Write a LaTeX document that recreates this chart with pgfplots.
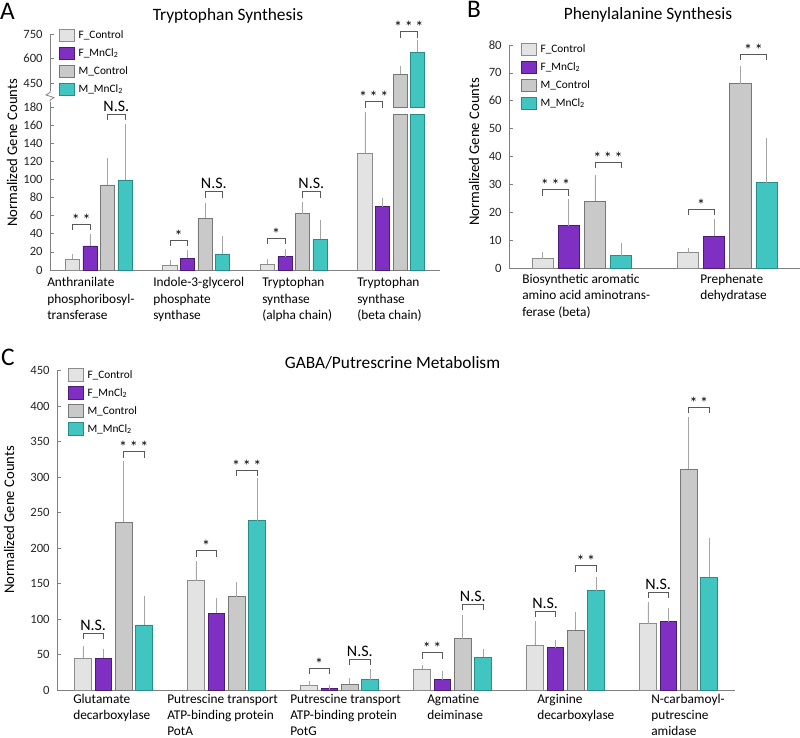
\documentclass[border=0pt]{standalone}
\usepackage{pgfplots}
\pgfplotsset{compat=1.18}
\usepackage{pgfplotstable}
\usepackage{fontspec}
\setmainfont{Carlito}

\definecolor{fcF}{HTML}{E3E3E3}\definecolor{fcD}{HTML}{8C8C8C}
\definecolor{fmF}{HTML}{7F30C2}\definecolor{fmD}{HTML}{4A1C75}
\definecolor{mcF}{HTML}{C9C9C9}\definecolor{mcD}{HTML}{777777}
\definecolor{mmF}{HTML}{40C5C0}\definecolor{mmD}{HTML}{2A8C88}
\definecolor{errc}{HTML}{A6A6A6}
\definecolor{axc}{HTML}{808080}

\pgfplotstableread{
x fc fce fm fme
0 11.8 2.9 26.5 10.3
1 5.5 2.5 12.9 6.2
2 6.3 3.6 14.7 5.5
3 128.9 43.0 69.9 7.1
}\tabAF
\pgfplotstableread{
x mc mce mm mme
0 93.9 27.6 99.4 59.6
1 57.0 14.0 17.7 17.3
2 62.2 10.7 33.9 18.3
}\tabAM
\pgfplotstableread{
x fc fce fm fme mc mce mm mme
0 3.3 1.7 15.2 8.7 24.0 8.6 4.4 3.7
1 5.6 0.7 11.3 5.3 66.1 5.5 30.6 15.1
}\tabB
\pgfplotstableread{
x fc fce fm fme mc mce mm mme
0 44.6 14.1 44.6 10.4 236.3 83.1 91.6 37.6
1 154.0 24.5 108.0 18.8 131.5 17.9 238.6 56.4
2 7.0 2.4 1.9 1.9 8.0 5.2 14.6 11.2
3 29.6 2.8 14.6 8.9 72.3 30.1 46.0 9.0
4 62.9 30.6 59.7 7.5 84.5 22.1 140.0 16.4
5 93.5 27.7 96.3 16.4 311.0 70.9 159.2 51.2
}\tabC

\pgfplotsset{
  panel/.style={scale only axis, ybar, clip=false,
    axis x line*=bottom, axis y line*=left, xtick=\empty,
    axis line style={axc, line width=0.6pt},
    tick align=inside, major tick length=3pt,
    ytick style={axc, line width=0.5pt},
    tick label style={font=\fontsize{9.5}{11}\selectfont, black!85},
    /pgf/number format/assume math mode=true,
    yticklabel style={xshift=-2pt},
    legend style={draw=none, fill=none, inner sep=0pt, outer sep=0pt,
      row sep=3.4pt, font=\fontsize{8.5}{10}\selectfont, anchor=north west,
      cells={anchor=west}, nodes={inner xsep=3pt, inner ysep=0pt}},
  },
  lgd/.style={legend image code/.code={\draw[##1] (0pt,-4.8pt) rectangle (11.25pt,4.8pt);}},
  errb/.style={error bars/.cd, y dir=plus, y explicit,
    error bar style={errc, line width=0.5pt},
    error mark options={errc, mark size=1.8pt, line width=0.5pt}},
  sFC/.style={fill=fcF, draw=fcD, line width=0.5pt, bar width=0.146, bar shift=-0.27, lgd},
  sFM/.style={fill=fmF, draw=fmD, line width=0.5pt, bar width=0.146, bar shift=-0.09, lgd},
  sMC/.style={fill=mcF, draw=mcD, line width=0.5pt, bar width=0.146, bar shift=0.09, lgd},
  sMM/.style={fill=mmF, draw=mmD, line width=0.5pt, bar width=0.146, bar shift=0.27, lgd},
}

\newcommand{\bra}[5]{% x1 x2 xm y label
  \draw[black!65, line width=0.5pt] ([yshift=-4.5pt]axis cs:#1,#4) -- (axis cs:#1,#4) -- (axis cs:#2,#4) -- ([yshift=-4.5pt]axis cs:#2,#4);
  \node[anchor=base, inner sep=0pt, font=\fontsize{12}{14}\selectfont] at ([yshift=-0.8pt]axis cs:#3,#4) {#5};
}
\newcommand{\brn}[4]{% x1 x2 xm y  N.S.
  \draw[black!65, line width=0.5pt] ([yshift=-4.5pt]axis cs:#1,#4) -- (axis cs:#1,#4) -- (axis cs:#2,#4) -- ([yshift=-4.5pt]axis cs:#2,#4);
  \node[anchor=base, inner sep=0pt, font=\fontsize{12}{14}\selectfont] at ([yshift=2.2pt]axis cs:#3,#4) {N.S.};
}
\newcommand{\st}[1]{\ifcase#1\or*\or*\,*\or*\,*\,*\fi}
\newcommand{\lab}[3]{\node[anchor=base west, inner sep=0pt, font=\fontsize{10}{12}\selectfont] at ({#1*0.75pt},{(738-#2)*0.75pt}) {#3};}

\begin{document}
\begin{tikzpicture}
\path[use as bounding box] (0pt,0pt) rectangle (600pt,553.5pt);

% ---------- Panel A lower ----------
\begin{axis}[panel, at={(37.5pt,351pt)}, anchor=south west,
  width=292.5pt, height=126.3pt, xmin=-0.5, xmax=3.5, ymin=0, ymax=186,
  ytick={0,20,...,180},
  legend style={at={(0.023,1.434)}}]
\addplot[sFC, errb] table[x=x, y=fc, y error=fce] {\tabAF};
\addplot[sFM, errb] table[x=x, y=fm, y error=fme] {\tabAF};
\addplot[sMC, errb] table[x=x, y=mc, y error=mce] {\tabAM};
\addplot[sMM, errb] table[x=x, y=mm, y error=mme] {\tabAM};
\addplot[sMC, forget plot] coordinates {(3,172)};
\addplot[sMM, forget plot] coordinates {(3,172)};
\legend{F\_Control, F\_MnCl\textsubscript{2}, M\_Control, M\_MnCl\textsubscript{2}}
\bra{-0.27}{-0.09}{-0.18}{50.8}{\st2}
\brn{0.09}{0.27}{0.18}{172.3}
\bra{0.73}{0.91}{0.82}{33.1}{\st1}
\brn{1.09}{1.27}{1.18}{86.5}
\bra{1.73}{1.91}{1.82}{35}{\st1}
\brn{2.09}{2.27}{2.18}{86.5}
\bra{2.73}{2.91}{2.82}{185.9}{\st3}
\end{axis}

% ---------- Panel A upper ----------
\begin{axis}[panel, at={(37.5pt,472.875pt)}, anchor=south west,
  width=292.5pt, height=55.15pt, xmin=-0.5, xmax=3.5, ymin=300, ymax=750,
  hide x axis, y axis line style={draw=none},
  ytick={450,600,750}]
\addplot[sMC, errb] coordinates {(3,505) +- (0,35)};
\addplot[sMM, errb] coordinates {(3,638) +- (0,61)};
\draw[axc, line width=0.6pt] (axis cs:-0.5,400) -- (axis cs:-0.5,750);
\bra{3.09}{3.27}{3.18}{764}{\st3}
\end{axis}
\draw[axc, line width=0.6pt] (37.5pt,477.3pt) -- (37.5pt,478.3pt) -- (40.5pt,480.3pt) -- (34.5pt,482.3pt) -- (37.5pt,484.1pt) -- (37.5pt,485.1pt);

% ---------- Panel B ----------
\begin{axis}[panel, at={(381.75pt,352.5pt)}, anchor=south west,
  width=218.25pt, height=167.25pt, xmin=-0.5, xmax=1.5, ymin=0, ymax=80,
  ytick={0,10,...,80},
  legend style={at={(0.041,1.011)}}]
\addplot[sFC, errb] table[x=x, y=fc, y error=fce] {\tabB};
\addplot[sFM, errb] table[x=x, y=fm, y error=fme] {\tabB};
\addplot[sMC, errb] table[x=x, y=mc, y error=mce] {\tabB};
\addplot[sMM, errb] table[x=x, y=mm, y error=mme] {\tabB};
\legend{F\_Control, F\_MnCl\textsubscript{2}, M\_Control, M\_MnCl\textsubscript{2}}
\bra{-0.27}{-0.09}{-0.18}{28.1}{\st3}
\bra{0.09}{0.27}{0.18}{37.9}{\st3}
\bra{0.73}{0.91}{0.82}{21.1}{\st1}
\bra{1.09}{1.27}{1.18}{76.7}{\st2}
\end{axis}

% ---------- Panel C ----------
\begin{axis}[panel, at={(42.75pt,36pt)}, anchor=south west,
  width=508.5pt, height=239.5pt, xmin=-0.5, xmax=5.5, ymin=0, ymax=450,
  ytick={0,50,...,450},
  legend style={at={(0.016,1.007)}}]
\addplot[sFC, errb] table[x=x, y=fc, y error=fce] {\tabC};
\addplot[sFM, errb] table[x=x, y=fm, y error=fme] {\tabC};
\addplot[sMC, errb] table[x=x, y=mc, y error=mce] {\tabC};
\addplot[sMM, errb] table[x=x, y=mm, y error=mme] {\tabC};
\legend{F\_Control, F\_MnCl\textsubscript{2}, M\_Control, M\_MnCl\textsubscript{2}}
\brn{-0.27}{-0.09}{-0.18}{79.9}
\bra{0.09}{0.27}{0.18}{335.8}{\st3}
\bra{0.73}{0.91}{0.82}{196.3}{\st1}
\bra{1.09}{1.27}{1.18}{310}{\st3}
\bra{1.73}{1.91}{1.82}{30.5}{\st1}
\brn{2.09}{2.27}{2.18}{43.2}
\bra{2.73}{2.91}{2.82}{52.6}{\st2}
\brn{3.09}{3.27}{3.18}{121.2}
\brn{3.73}{3.91}{3.82}{111.3}
\bra{4.09}{4.27}{4.18}{175.2}{\st2}
\brn{4.73}{4.91}{4.82}{137.6}
\bra{5.09}{5.27}{5.18}{398.3}{\st2}
\end{axis}

% ---------- titles, letters, y labels ----------
\node[anchor=center, inner sep=0pt, font=\fontsize{19}{22}\selectfont] at (5.5pt,545pt) {A};
\node[anchor=center, inner sep=0pt, font=\fontsize{19}{22}\selectfont] at (355.5pt,546.75pt) {B};
\node[anchor=center, inner sep=0pt, font=\fontsize{19}{22}\selectfont] at (6pt,285.75pt) {C};
\node[anchor=base, inner sep=0pt, font=\fontsize{13}{15}\selectfont] at (171pt,537.75pt) {Tryptophan Synthesis};
\node[anchor=base, inner sep=0pt, font=\fontsize{13}{15}\selectfont] at (486pt,538.5pt) {Phenylalanine Synthesis};
\node[anchor=base, inner sep=0pt, font=\fontsize{13}{15}\selectfont] at (294.4pt,276.75pt) {GABA/Putrescrine Metabolism};
\node[rotate=90, anchor=center, inner sep=0pt, font=\fontsize{11}{13}\selectfont] at (9pt,438.75pt) {Normalized Gene Counts};
\node[rotate=90, anchor=center, inner sep=0pt, font=\fontsize{11}{13}\selectfont] at (355.5pt,439.5pt) {Normalized Gene Counts};
\node[rotate=90, anchor=center, inner sep=0pt, font=\fontsize{11}{13}\selectfont] at (6.9pt,163.5pt) {Normalized Gene Counts};

% ---------- category labels A ----------
\lab{47}{287}{Anthranilate}\lab{47}{303.5}{phosphoribosyl-}\lab{47}{320}{transferase}
\lab{153}{287}{Indole-3-glycerol }\lab{153}{303.5}{phosphate }\lab{153}{320}{synthase}
\lab{262}{287}{Tryptophan }\lab{262}{303.5}{synthase }\lab{262}{320}{(alpha chain)}
\lab{357}{287}{Tryptophan }\lab{357}{303.5}{synthase }\lab{357}{320}{(beta chain)}
% ---------- category labels B ----------
\lab{522}{283.5}{Biosynthetic aromatic }\lab{522}{300}{amino acid aminotrans-}\lab{522}{316.5}{ferase (beta)}
\lab{700}{283.5}{Prephenate}\lab{700}{300}{dehydratase}
% ---------- category labels C ----------
\lab{73}{703.5}{Glutamate }\lab{73}{719.5}{decarboxylase}
\lab{167}{703.5}{Putrescine transport }\lab{167}{719.5}{ATP-binding protein }\lab{167}{735.3}{PotA}
\lab{290}{703.5}{Putrescine transport }\lab{290}{719.5}{ATP-binding protein }\lab{290}{735.3}{PotG}
\lab{427}{703.5}{Agmatine}\lab{427}{719.5}{deiminase}
\lab{537}{703.5}{Arginine }\lab{537}{719.5}{decarboxylase}
\lab{651}{703.5}{N-carbamoyl-}\lab{651}{719.5}{putrescine }\lab{651}{735.3}{amidase}
\end{tikzpicture}
\end{document}
